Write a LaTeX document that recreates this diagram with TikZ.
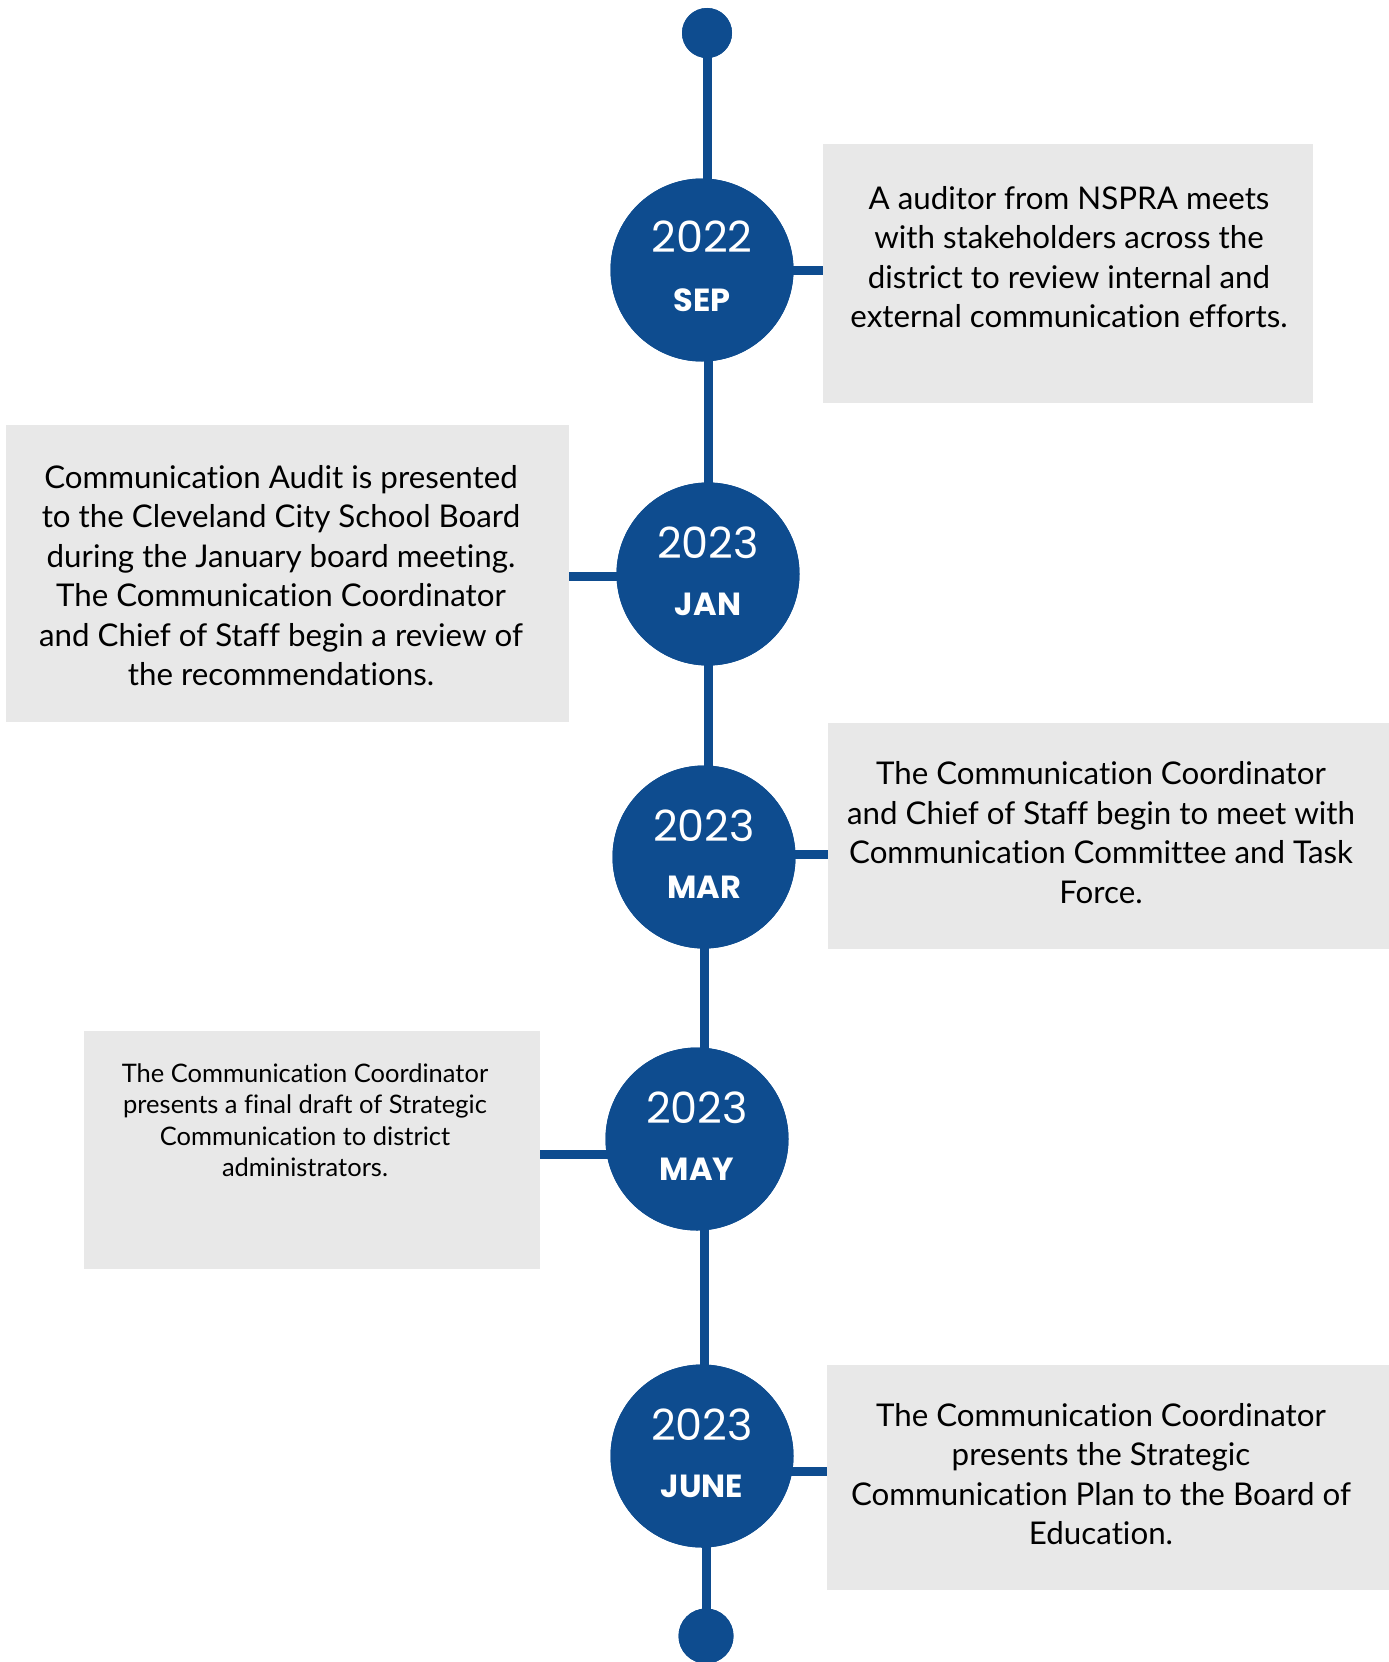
\documentclass[tikz,border=0pt]{standalone}
\usepackage{fontspec}
\setmainfont{Lato}[Ligatures=NoCommon]
\newfontfamily\pop{Poppins}
\definecolor{tlblue}{HTML}{0E4C8F}
\definecolor{boxgray}{HTML}{E8E8E8}
\begin{document}
\begin{tikzpicture}[x=1pt,y=-1pt,
  dot/.style={circle,fill=tlblue,minimum size=50pt,inner sep=0},
  enddot/.style={circle,fill=tlblue,minimum size=55pt,inner sep=0},
  datecircle/.style={circle,fill=tlblue,minimum size=183pt,inner sep=0},
  yeartxt/.style={text=white,font=\pop\fontsize{43}{46}\selectfont,inner sep=0},
  monthtxt/.style={text=white,font=\pop\bfseries\fontsize{32}{36}\selectfont,inner sep=0},
  graybox/.style={rectangle,fill=boxgray,inner sep=0},
  bodytxt/.style={align=center,inner sep=0,font=\fontsize{31.3}{39.4}\selectfont},
  smalltxt/.style={align=center,inner sep=0,font=\fontsize{25.5}{31.4}\selectfont},
  tl/.style={draw=tlblue,line width=9pt}]
\useasboundingbox (0,0) rectangle (1389,1662);
% boxes
\node[graybox,minimum width=490pt,minimum height=259pt] (b1) at (1068,273.5) {};
\node[graybox,minimum width=563pt,minimum height=297pt] (b2) at (287.5,573.5) {};
\node[graybox,minimum width=561pt,minimum height=226pt] (b3) at (1108.5,836) {};
\node[graybox,minimum width=456pt,minimum height=238pt] (b4) at (312,1150) {};
\node[graybox,minimum width=562pt,minimum height=225pt] (b5) at (1108,1477.5) {};
% circles
\node[dot] (top) at (707,33) {};
\node[datecircle] (sep) at (702,270) {};
\node[datecircle] (jan) at (708,574) {};
\node[datecircle] (mar) at (704,857) {};
\node[datecircle] (may) at (697,1139) {};
\node[datecircle] (june) at (702,1456) {};
\node[enddot] (bot) at (706,1636) {};
% vertical line
\draw[tl] (top.center) -- (top.center |- sep.center);
\draw[tl] (jan.center |- sep.center) -- (jan.center);
\draw[tl] (jan.center) -- (jan.center |- mar.center);
\draw[tl] (mar.center) -- (mar.center |- may.center);
\draw[tl] (mar.center |- may.center) -- (mar.center |- june.center);
\draw[tl] (bot.center |- june.center) -- (bot.center);
% side connectors
\coordinate (c1) at (760,270);
\coordinate (c2) at (640,576);
\coordinate (c3) at (760,854);
\coordinate (c4) at (640,1154);
\coordinate (c5) at (760,1471);
\draw[tl] (c1) -- (b1.west |- c1);
\draw[tl] (c2) -- (b2.east |- c2);
\draw[tl] (c3) -- (b3.west |- c3);
\draw[tl] (c4) -- (b4.east |- c4);
\draw[tl] (c5) -- (b5.west |- c5);
% redraw circles on top
\fill[tlblue] (sep) circle (91.5);
\fill[tlblue] (jan) circle (91.5);
\fill[tlblue] (mar) circle (91.5);
\fill[tlblue] (may) circle (91.5);
\fill[tlblue] (june) circle (91.5);
\fill[tlblue] (top) circle (25);
\fill[tlblue] (bot) circle (27.5);
% labels
\node[yeartxt] (y1) at ([yshift=33pt]sep.center) {2022};
\node[monthtxt] (m1) at ([yshift=-30pt]sep.center) {SEP};
\node[yeartxt] (y2) at ([yshift=31pt]jan.center) {2023};
\node[monthtxt] (m2) at ([yshift=-30pt]jan.center) {JAN};
\node[yeartxt] (y3) at ([yshift=31pt]mar.center) {2023};
\node[monthtxt] (m3) at ([yshift=-30pt]mar.center) {MAR};
\node[yeartxt] (y4) at ([yshift=31pt]may.center) {2023};
\node[monthtxt] (m4) at ([yshift=-30pt]may.center) {MAY};
\node[yeartxt] (y5) at ([yshift=31pt]june.center) {2023};
\node[monthtxt] (m5) at ([yshift=-30pt]june.center) {JUNE};
% texts
\node[bodytxt] (t1) at (1069,257) {A auditor from NSPRA meets\\with stakeholders across the\\district to review internal and\\external communication efforts.};
\node[bodytxt] (t2) at (281,575.5) {Communication Audit is presented\\to the Cleveland City School Board\\during the January board meeting.\\The Communication Coordinator\\and Chief of Staff begin a review of\\the recommendations.};
\node[bodytxt] (t3) at (1101,832.5) {The Communication Coordinator\\and Chief of Staff begin to meet with\\Communication Committee and Task\\Force.};
\node[smalltxt] (t4) at (305,1120) {The Communication Coordinator\\presents a final draft of Strategic\\Communication to district\\administrators.};
\node[bodytxt] (t5) at (1101,1474) {The Communication Coordinator\\presents the Strategic\\Communication Plan to the Board of\\Education.};
\end{tikzpicture}
\end{document}
